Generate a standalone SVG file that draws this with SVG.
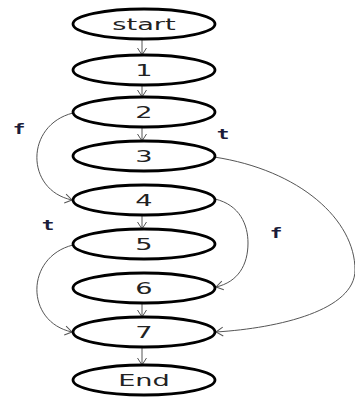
<svg xmlns="http://www.w3.org/2000/svg" width="355" height="397" viewBox="0 0 355 397">
<style>
.n ellipse{fill:#fff;stroke:#000;stroke-width:2.8}
.n text{font-family:"DejaVu Sans",sans-serif;font-size:16px;fill:#222;text-anchor:middle}
.e path,.e line{fill:none;stroke:#555;stroke-width:1}
.lbl{font-family:"DejaVu Sans Mono",monospace;font-weight:bold;font-size:14px;fill:#1c1c3a;text-anchor:middle}
</style>
<defs>
<marker id="a" markerUnits="userSpaceOnUse" markerWidth="12" markerHeight="12" refX="8" refY="5" orient="auto" viewBox="0 0 12 10">
<path d="M1,0.5 L8,5 L1,9.5" fill="none" stroke="#555" stroke-width="1"/>
</marker>
</defs>
<rect width="355" height="397" fill="#fff"/>
<g class="e">
<line x1="142" y1="39" x2="142" y2="55" marker-end="url(#a)"/>
<line x1="142" y1="85" x2="142" y2="97" marker-end="url(#a)"/>
<line x1="142" y1="127" x2="142" y2="141" marker-end="url(#a)"/>
<line x1="142" y1="215" x2="142" y2="229" marker-end="url(#a)"/>
<line x1="142" y1="303" x2="142" y2="317" marker-end="url(#a)"/>
<line x1="142" y1="347" x2="142" y2="365" marker-end="url(#a)"/>
<path d="M73,113 C25,125 25,190 72,200" marker-end="url(#a)"/>
<path d="M73,245 C25,257 25,322 72,332" marker-end="url(#a)"/>
<path d="M214,157 C300,170 355,220 355,270 C355,310 280,328 216,332" marker-end="url(#a)"/>
<path d="M215,199 C240,205 248,225 248,243 C248,265 238,282 216,287" marker-end="url(#a)"/>
</g>
<g id="start" class="n"><ellipse cx="144" cy="24" rx="71" ry="15"/><text transform="translate(144,30) scale(1.7,1)">start</text></g>
<g id="n1" class="n"><ellipse cx="144" cy="70" rx="71" ry="15"/><text transform="translate(144,76) scale(1.7,1)">1</text></g>
<g id="n2" class="n"><ellipse cx="144" cy="112" rx="71" ry="15"/><text transform="translate(144,118) scale(1.7,1)">2</text></g>
<g id="n3" class="n"><ellipse cx="144" cy="156" rx="71" ry="15"/><text transform="translate(144,162) scale(1.7,1)">3</text></g>
<g id="n4" class="n"><ellipse cx="144" cy="200" rx="71" ry="15"/><text transform="translate(144,206) scale(1.7,1)">4</text></g>
<g id="n5" class="n"><ellipse cx="144" cy="244" rx="71" ry="15"/><text transform="translate(144,250) scale(1.7,1)">5</text></g>
<g id="n6" class="n"><ellipse cx="144" cy="288" rx="71" ry="15"/><text transform="translate(144,294) scale(1.7,1)">6</text></g>
<g id="n7" class="n"><ellipse cx="144" cy="332" rx="71" ry="15"/><text transform="translate(144,338) scale(1.7,1)">7</text></g>
<g id="end" class="n"><ellipse cx="144" cy="380" rx="71" ry="15"/><text transform="translate(144,386) scale(1.7,1)">End</text></g>
<g id="labels">
<text class="lbl" transform="translate(19,134) scale(1.5,1)">f</text>
<text class="lbl" transform="translate(223,139) scale(1.5,1)">t</text>
<text class="lbl" transform="translate(276,238) scale(1.5,1)">f</text>
<text class="lbl" transform="translate(48,230) scale(1.5,1)">t</text>
</g>
</svg>
